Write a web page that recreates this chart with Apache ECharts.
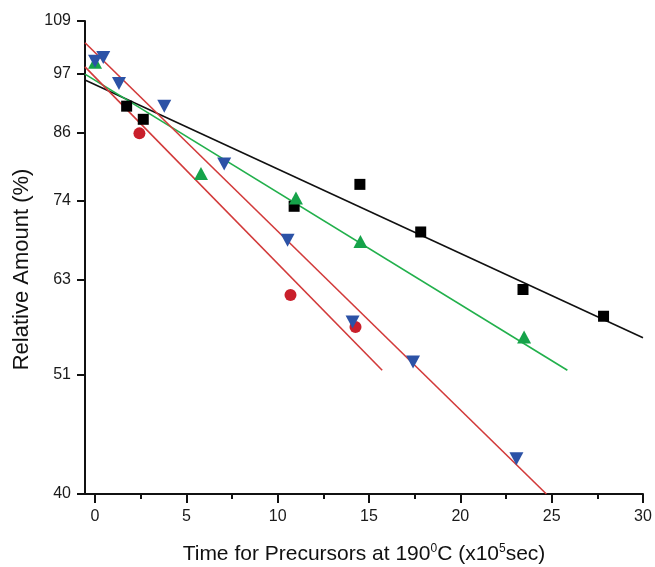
<!DOCTYPE html>
<html>
<head>
<meta charset="utf-8">
<script src="https://cdn.jsdelivr.net/npm/echarts@6/dist/echarts.min.js"></script>
<style>
html,body{margin:0;padding:0;background:#fff;}
#chart{width:655px;height:567px;}
</style>
</head>
<body>
<div id="chart"></div>
<script>
// ---- data (x in 1e5 s, y in %) ----
const blackSquares = [[1.73,91.0],[2.64,88.5],[10.9,73.6],[14.5,77.1],[17.83,69.7],[23.43,61.7],[27.84,58.3]];
const redCircles = [[2.43,85.9],[10.7,61.0],[14.26,57.0]];
const greenTriangles = [[0,99.9],[5.8,78.9],[11.0,74.9],[14.53,68.3],[23.49,55.8]];
const blueTriangles = [[0,100.1],[0.45,100.9],[1.31,95.5],[3.79,91.0],[7.07,80.5],[10.54,68.5],[14.1,57.6],[17.41,52.9],[23.07,43.1]];

const blackFit = [[-0.55,96.2],[30,55.7]];
const greenFit = [[-0.55,97.4],[25.86,52.0]];
const redFitA = [[-0.55,98.9],[15.72,52.0]];
const redFitB = [[-0.55,104.1],[24.71,40]];

const xMajorTicks = [0,5,10,15,20,25,30];
const xMinorTicks = [2.5,7.5,12.5,17.5,22.5,27.5];
const yTickValues = [40,51.5,63,74.5,86,97.5,109];
const yTickLabels = ['40','51','63','74','86','97','109'];

// log-scaled y axis: values are placed on the library's value axis in ln space
const toLog = pts => pts.map(p => [p[0], Math.log(p[1])]);
const yLogTicks = yTickValues.map(v => Math.log(v));
const labelFor = v => {
  let best = 0;
  yLogTicks.forEach((t,i) => { if (Math.abs(t - v) < Math.abs(yLogTicks[best] - v)) best = i; });
  return yTickLabels[best];
};

const FONT = 'Liberation Sans, Arial, sans-serif';
const chart = echarts.init(document.getElementById('chart'), null, {renderer:'canvas'});
const baseX = {
  type:'value', min:-0.55, max:30, position:'bottom',
  splitLine:{show:false}
};
chart.setOption({
  animation:false,
  backgroundColor:'#fff',
  grid:{left:85, right:12, top:21, bottom:73, containLabel:false, outerBoundsMode:'none'},
  xAxis:[
    Object.assign({}, baseX, {
      name:'Time for Precursors at 190{s|0}C (x10{s|5}sec)',
      nameLocation:'middle', nameGap:49,
      nameTextStyle:{fontFamily:FONT, fontSize:21, color:'#111',
        rich:{s:{fontFamily:FONT, fontSize:12, color:'#111', verticalAlign:'top', padding:[0,0,11,0]}}},
      axisLine:{show:true, onZero:false, lineStyle:{color:'#111', width:2}},
      axisTick:{show:true, inside:false, length:9, customValues:xMajorTicks, lineStyle:{color:'#111', width:2}},
      axisLabel:{show:true, customValues:xMajorTicks, margin:15, fontFamily:FONT, fontSize:16, color:'#1a1a1a'}
    }),
    Object.assign({}, baseX, {
      axisLine:{show:false, onZero:false},
      axisTick:{show:true, inside:false, length:5, customValues:xMinorTicks, lineStyle:{color:'#111', width:2}},
      axisLabel:{show:false}
    })
  ],
  yAxis:{
    type:'value', min:Math.log(40), max:Math.log(109),
    name:'Relative Amount (%)', nameLocation:'middle', nameGap:52,
    nameTextStyle:{fontFamily:FONT, fontSize:22, color:'#111', padding:[0,24,0,0]},
    splitLine:{show:false},
    axisLine:{show:true, onZero:false, lineStyle:{color:'#111', width:2}},
    axisTick:{show:true, inside:false, length:8, customValues:yLogTicks, lineStyle:{color:'#111', width:2}},
    axisLabel:{show:true, customValues:yLogTicks, margin:14, fontFamily:FONT, fontSize:16, color:'#1a1a1a',
      formatter: v => labelFor(v)}
  },
  series:[
    {type:'line', data:toLog(blackFit), showSymbol:false, lineStyle:{color:'#111', width:1.6}, z:2},
    {type:'line', data:toLog(greenFit), showSymbol:false, lineStyle:{color:'#22b04c', width:1.6}, z:2},
    {type:'line', data:toLog(redFitA), showSymbol:false, lineStyle:{color:'#d23a3a', width:1.6}, z:2},
    {type:'line', data:toLog(redFitB), showSymbol:false, lineStyle:{color:'#d23a3a', width:1.6}, z:2},
    {type:'scatter', data:toLog(blackSquares), symbol:'rect', symbolSize:11, itemStyle:{color:'#000', opacity:1}, z:3},
    {type:'scatter', data:toLog(redCircles), symbol:'circle', symbolSize:12, itemStyle:{color:'#c91f2b', opacity:1}, z:4},
    {type:'scatter', data:toLog(greenTriangles), symbol:'triangle', symbolSize:[14,13], itemStyle:{color:'#16a34a', opacity:1}, z:5},
    {type:'scatter', data:toLog(blueTriangles), symbol:'triangle', symbolRotate:180, symbolSize:[14,13], itemStyle:{color:'#2c52a6', opacity:1}, z:6}
  ]
});
</script>
</body>
</html>
